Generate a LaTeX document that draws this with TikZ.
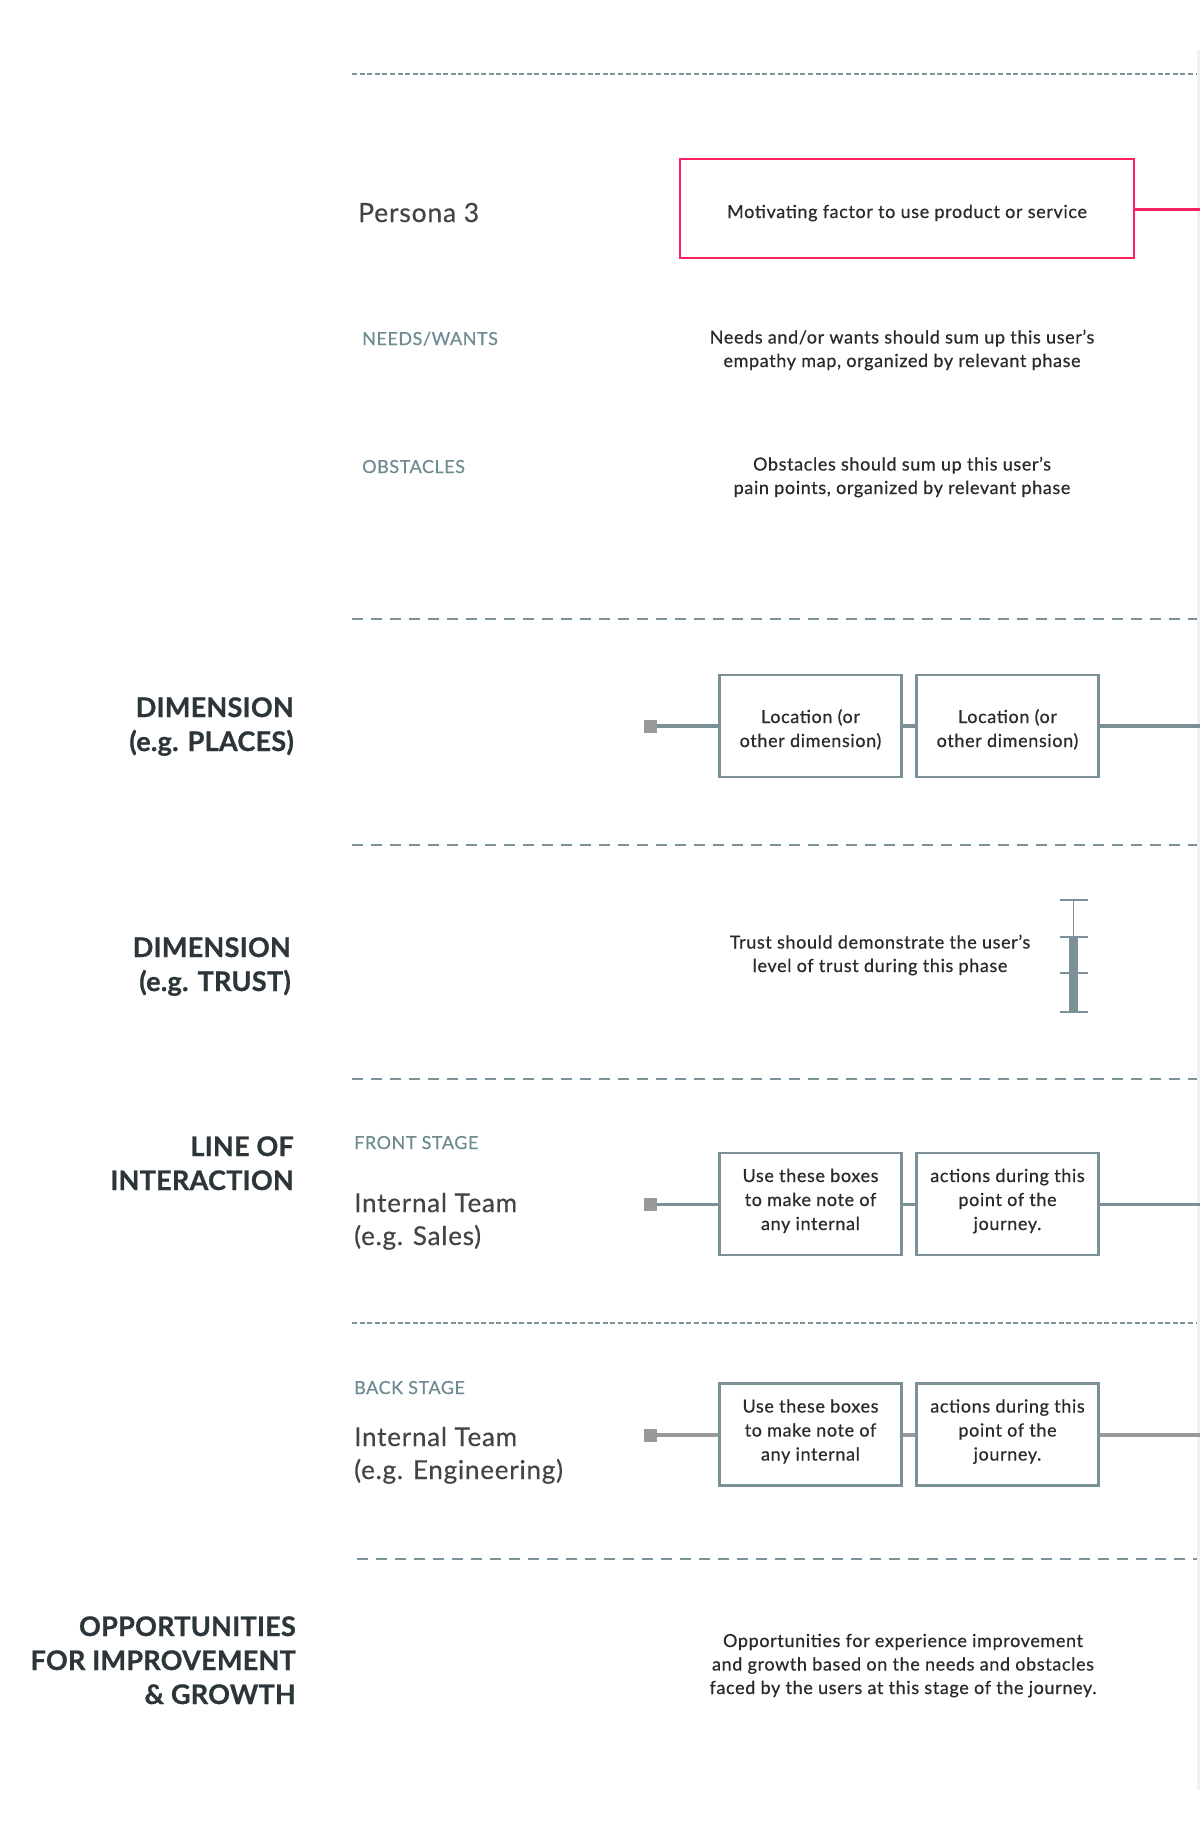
\documentclass[tikz,border=0pt]{standalone}
\usepackage{fontspec}
\setmainfont{Lato}
\newfontfamily\bodyfont[LetterSpace=3.5,FakeBold=0.5]{Lato}
\newfontfamily\labelfont[LetterSpace=3,FakeBold=0.4]{Lato}
\newfontfamily\headfont[LetterSpace=1,BoldFeatures={FakeBold=0.8}]{Lato}
\definecolor{slate}{HTML}{7B9197}
\definecolor{dashcol}{HTML}{7D9399}
\definecolor{pinkc}{HTML}{FF2160}
\definecolor{stagecol}{HTML}{6E8B92}
\definecolor{labeldark}{HTML}{2C3539}
\definecolor{textdark}{HTML}{2A2A2A}
\definecolor{teamcol}{HTML}{444444}
\definecolor{sqgray}{HTML}{999999}
\definecolor{stripgray}{HTML}{EEF0F3}
\begin{document}
\begin{tikzpicture}[x=1pt,y=-1pt,
  finedash/.style={draw=dashcol,line width=1.3pt,dash pattern=on 5pt off 2.6pt},
  longdash/.style={draw=dashcol,line width=1.5pt,dash pattern=on 11pt off 8pt},
  seclabel/.style={font=\headfont\fontsize{27}{34}\selectfont\bfseries,text=labeldark,align=right,anchor=base east,inner sep=0pt},
  stagelabel/.style={font=\labelfont\fontsize{18}{20}\selectfont,text=stagecol,anchor=base west,inner sep=0pt},
  teamlabel/.style={font=\labelfont\fontsize{26}{33}\selectfont,text=teamcol,align=left,anchor=base west,inner sep=0pt},
  bodytext/.style={font=\bodyfont\fontsize{18}{23.5}\selectfont,text=textdark,align=center,anchor=base,inner sep=0pt},
  stepbox/.style={draw=slate,line width=2.5pt,fill=white,minimum width=182pt,minimum height=102pt,inner sep=0pt,align=center,font=\bodyfont\fontsize{18}{24}\selectfont,text=textdark},
  stepboxtwo/.style={stepbox,text height=44pt,text depth=2pt},
  stepboxthree/.style={stepbox,text height=54pt,text depth=2pt},
  pinkbox/.style={draw=pinkc,line width=2.5pt,fill=white,minimum width=454pt,minimum height=99pt,inner sep=0pt,font=\bodyfont\fontsize{18}{24}\selectfont,text=textdark,text height=22pt,text depth=3pt},
  sqnode/.style={fill=sqgray,minimum size=13pt,inner sep=0pt},
  conn/.style={draw=slate,line width=3.5pt},
  connback/.style={draw=sqgray,line width=3.5pt}
]
\useasboundingbox[fill=white] (0,0) rectangle (1200,1840);
% right edge strip
\fill[stripgray] (1197,50) rectangle (1200,1790);

% separators
\draw[finedash] (352,74) -- (1197,74);
\draw[longdash] (352,619) -- (1197,619);
\draw[longdash] (352,845) -- (1197,845);
\draw[longdash] (352,1079) -- (1197,1079);
\draw[finedash] (352,1323) -- (1197,1323);
\draw[longdash] (357,1559) -- (1197,1559);

% persona
\node[font=\labelfont\fontsize{26.5}{30}\selectfont,text=teamcol,anchor=base west,inner sep=0pt] (persona) at (358,222) {Persona 3};
\node[pinkbox] (motiv) at (907,208.5) {Motivating factor to use product or service};
\coordinate (motivend) at (1200,209);
\draw[draw=pinkc,line width=3pt] (motiv.east |- motivend) -- (motivend);

\node[stagelabel] (needs) at (362,345) {NEEDS/WANTS};
\node[bodytext] (needstext) at (902,367) {Needs and/or wants should sum up this user’s\\empathy map, organized by relevant phase};
\node[stagelabel] (obst) at (362,473) {OBSTACLES};
\node[bodytext] (obsttext) at (902,494) {Obstacles should sum up this user’s\\pain points, organized by relevant phase};

% places
\node[seclabel] (dimplaces) at (294,751) {DIMENSION\\(e.g. PLACES)};
\node[sqnode] (psq) at (650,726) {};
\node[stepboxtwo] (pb1) at (810.5,726) {Location (or\\other dimension)};
\node[stepboxtwo] (pb2) at (1007.5,726) {Location (or\\other dimension)};
\coordinate (pend) at (1200,726);
\draw[conn] (psq.east) -- (pb1.west);
\draw[conn] (pb1.east) -- (pb2.west);
\draw[conn] (pb2.east) -- (pend);

% trust
\node[seclabel] (dimtrust) at (291,991) {DIMENSION\\(e.g. TRUST)};
\node[bodytext] (trusttext) at (880,972) {Trust should demonstrate the user’s\\level of trust during this phase};
\draw[slate,line width=1.5pt] (1073.5,900) -- (1073.5,937);
\fill[slate] (1069,937) rectangle (1078,1012);
\foreach \yy in {900,937,973,1012}
  \draw[slate,line width=1.5pt] (1059.5,\yy) -- (1087.5,\yy);

% line of interaction
\node[seclabel] (loi) at (294,1190) {LINE OF\\INTERACTION};
\node[stagelabel] (front) at (354,1149) {FRONT STAGE};
\node[teamlabel] (teamfront) at (354,1245) {Internal Team\\(e.g. Sales)};
\node[sqnode] (fsq) at (650.5,1204.5) {};
\node[stepboxthree] (fb1) at (810.5,1204) {Use these boxes\\to make note of\\any internal};
\node[stepboxthree] (fb2) at (1007.5,1204) {actions during this\\point of the\\journey.};
\coordinate (fend) at (1200,1204.5);
\draw[conn] (fsq.east) -- (fb1.west |- fsq);
\draw[conn] (fb1.east |- fsq) -- (fb2.west |- fsq);
\draw[conn] (fb2.east |- fsq) -- (fend);

\node[stagelabel] (back) at (354,1394) {BACK STAGE};
\node[teamlabel] (teamback) at (354,1479) {Internal Team\\(e.g. Engineering)};
\node[sqnode] (bsq) at (650.5,1435) {};
\node[stepboxthree] (bb1) at (810.5,1434.5) {Use these boxes\\to make note of\\any internal};
\node[stepboxthree] (bb2) at (1007.5,1434.5) {actions during this\\point of the\\journey.};
\coordinate (bend) at (1200,1435);
\draw[connback] (bsq.east) -- (bb1.west |- bsq);
\draw[connback] (bb1.east |- bsq) -- (bb2.west |- bsq);
\draw[connback] (bb2.east |- bsq) -- (bend);

% opportunities
\node[seclabel] (opp) at (296,1704) {OPPORTUNITIES\\FOR IMPROVEMENT\\\& GROWTH};
\node[bodytext] (opptext) at (903,1694) {Opportunities for experience improvement\\and growth based on the needs and obstacles\\faced by the users at this stage of the journey.};
\end{tikzpicture}
\end{document}
